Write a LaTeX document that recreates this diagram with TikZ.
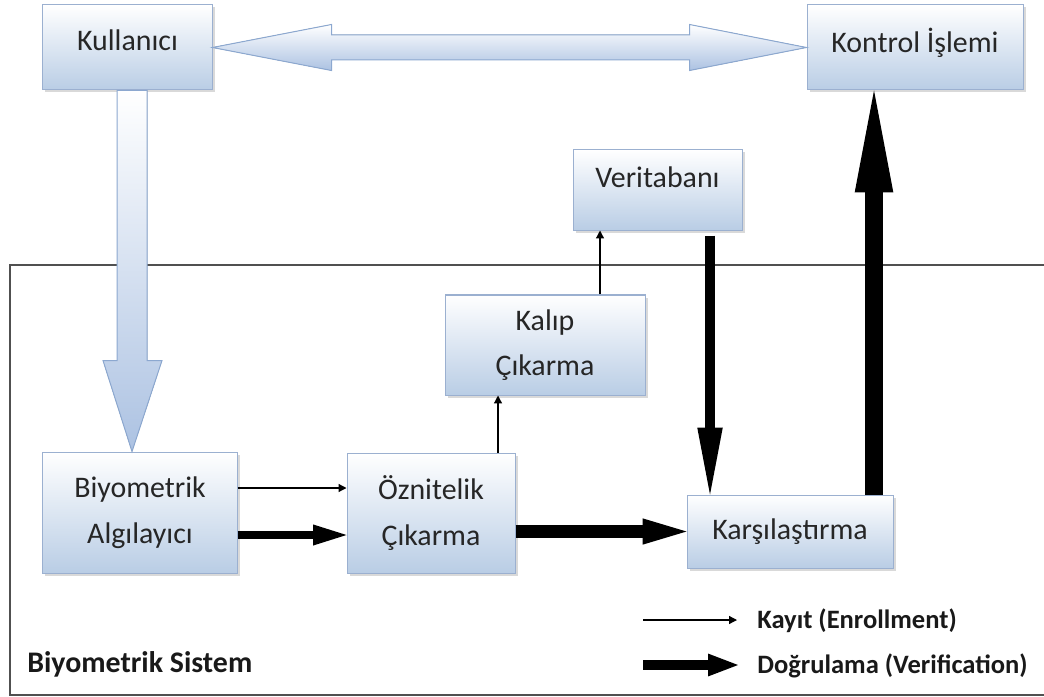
\documentclass[tikz,border=0pt]{standalone}
\usepackage{fontspec}
\setmainfont{Carlito}
\usetikzlibrary{arrows.meta,calc,shadows}
\definecolor{boxblue}{RGB}{185,205,229}
\definecolor{boxline}{RGB}{155,176,208}
\definecolor{arrowblue}{RGB}{172,194,226}
\definecolor{arrowline}{RGB}{140,168,208}
\definecolor{framegray}{RGB}{80,80,80}

\tikzset{
    procbox/.style={draw=boxline, line width=0.2mm, top color=white, bottom color=boxblue,
        drop shadow={shadow xshift=0.5mm, shadow yshift=-0.5mm, opacity=0.3},
        align=center, text=black!85, font=\fontsize{17}{26}\selectfont},
    enroll/.style={line width=0.7pt, -{Triangle[length=4.5pt,width=4.5pt]}},
    verify/.style n args={3}{line width=#1, -{Triangle[length=#2,width=#3,line width=0pt]}},
    bigarrow/.style={draw=arrowline, line width=0.2mm, top color=white, bottom color=arrowblue},
    legendtext/.style={font=\bfseries\fontsize{15.1}{18}\selectfont, anchor=base west, inner sep=0pt, text=black!90},
}

\begin{document}
\begin{tikzpicture}[x=0.2mm, y=-0.2mm]
    \useasboundingbox (0,0) rectangle (1044,697);

    % System frame
    \draw[framegray, line width=0.3mm] (1044,265) -- (10,265) -- (10,695) -- (1044,695);
    \node[legendtext, font=\bfseries\fontsize{17}{20}\selectfont] (sys) at (27,672) {Biyometrik Sistem};

    % Boxes
    \node[procbox, minimum width=33.8mm, minimum height=17mm, text depth=3mm] (user) at (127.5,47.5) {Kullanıcı};
    \node[procbox, minimum width=43.2mm, minimum height=17mm, text depth=3mm] (control) at (915,47.5) {Kontrol İşlemi};
    \node[procbox, minimum width=33.8mm, minimum height=16mm, text depth=5mm] (db) at (657.5,190) {Veritabanı};
    \node[procbox, minimum width=40mm, minimum height=20mm] (tmpl) at (545,345) {Kalıp\\Çıkarma};
    \node[procbox, minimum width=38.8mm, minimum height=24.2mm] (sensor) at (140,512.5) {Biyometrik\\Algılayıcı};
    \node[procbox, minimum width=33.6mm, minimum height=24mm] (feat) at (431,513) {Öznitelik\\Çıkarma};
    \node[procbox, minimum width=41.2mm, minimum height=14.6mm, text depth=1mm] (match) at (790,531.5) {Karşılaştırma};

    % Block arrows
    \coordinate (la) at (user.east);
    \coordinate (ra) at (control.west);
    \filldraw[bigarrow] (la) -- ($(la)+(119,-23)$) -- ($(la)+(119,-12.5)$) -- ($(ra)+(-117,-12.5)$)
        -- ($(ra)+(-117,-23)$) -- (ra) -- ($(ra)+(-117,23)$) -- ($(ra)+(-117,12.5)$)
        -- ($(la)+(119,12.5)$) -- ($(la)+(119,23)$) -- cycle;
    \coordinate (ua) at ($(user.south)+(4.5,0)$);
    \coordinate (ub) at (ua |- sensor.north);
    \filldraw[bigarrow] ($(ua)+(-15,0)$) -- ($(ua)+(15,0)$) -- ($(ub)+(15,-91)$) -- ($(ub)+(30,-91)$)
        -- (ub) -- ($(ub)+(-29,-91)$) -- ($(ub)+(-15,-91)$) -- cycle;

    % Enrollment
    \coordinate (s1) at ($(sensor.east)+(0,-24.5)$);
    \draw[enroll] (s1) -- (s1 -| feat.west);
    \coordinate (f1) at ($(feat.north)+(67,0)$);
    \draw[enroll] (f1) -- (f1 |- tmpl.south);
    \coordinate (t1) at ($(tmpl.north)+(55,0)$);
    \draw[enroll] (t1) -- (t1 |- db.south);

    % Verification
    \coordinate (s2) at ($(sensor.east)+(0,22.5)$);
    \draw[verify={4.6pt}{19pt}{12pt}] (s2) -- (s2 -| feat.west);
    \draw[verify={7.4pt}{25pt}{15pt}] (feat.east |- match.west) -- (match.west);
    \coordinate (d1) at ($(db.south)+(52.5,5)$);
    \draw[verify={5.7pt}{38pt}{14.5pt}] (d1) -- (d1 |- match.north);
    \coordinate (m1) at ($(match.north)+(84,0)$);
    \draw[verify={10.2pt}{58pt}{22pt}] (m1) -- (m1 |- control.south);

    % Legend
    \coordinate (k1) at (643,620);
    \coordinate (k2) at (737,620);
    \draw[enroll] (k1) -- (k2);
    \node[legendtext] (kt) at (757,628) {Kayıt (Enrollment)};
    \coordinate (v1) at (643,665);
    \coordinate (v2) at (738,665);
    \draw[verify={5.7pt}{17pt}{13pt}] (v1) -- (v2);
    \node[legendtext] (vt) at (757,673) {Doğrulama (Verification)};
\end{tikzpicture}
\end{document}
